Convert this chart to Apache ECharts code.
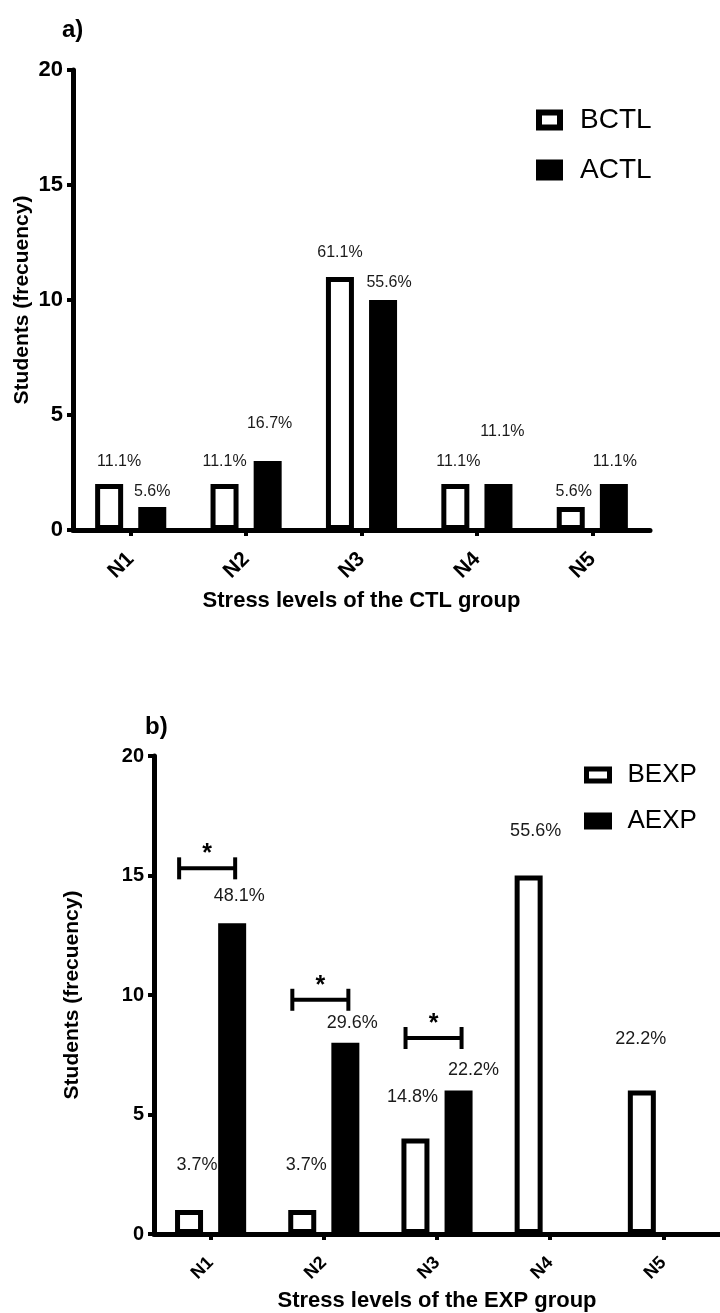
<!DOCTYPE html>
<html><head><meta charset="utf-8">
<script src="https://cdn.jsdelivr.net/npm/echarts@6/dist/echarts.min.js"></script>
<style>html,body{margin:0;padding:0;background:#fff}#c{width:720px;height:1313px}</style>
</head><body><div id="c"></div>
<script>
// ---- data ----
const levels = ['N1', 'N2', 'N3', 'N4', 'N5'];
const bctl = [2, 2, 11, 2, 1];
const actl = [1, 3, 10, 2, 2];
const bexp = [1, 1, 4, 15, 6];
const aexp = [13, 8, 6, 0, 0];
const sigCats = ['N1', 'N2', 'N3'];
const sigHeights = [15.3, 9.8, 8.2];
const yMin = 0, yMax = 20, yStep = 5;

// ---- label placement styles (pixels): [dx, lift of label centre above bar top] ----
const bctlLab = [[10, 22], [0, 22], [0, 24], [3, 22], [3, 15]];
const actlLab = [[0, 15], [2, 37], [6, 17], [4, 52], [1, 22]];
const bexpLab = [[8, 45], [4, 45], [-3, 41], [7, 44], [-1, 52]];
const aexpLab = [[7, 27], [7, 20], [15, 21], [0, 20], [0, 20]];

const FONT = "'Liberation Sans', Arial, sans-serif";
const sum = a => a.reduce((s, v) => s + v, 0);

function pctData(vals, labPos, fs) {
  const total = sum(vals);
  return vals.map((v, i) => ({
    value: v,
    itemStyle: v > 0 ? {} : { borderWidth: 0, opacity: 0 },
    label: {
      show: v > 0,
      offset: [labPos[i][0], -(labPos[i][1] - fs / 2)],
      formatter: () => (v / total * 100).toFixed(1) + '%'
    }
  }));
}

function xAxis(idx, name, fs, nameFs, nameGap, margin) {
  return {
    type: 'category', gridIndex: idx, data: levels,
    name: name, nameLocation: 'middle', nameGap: nameGap,
    nameTextStyle: { fontFamily: FONT, fontWeight: 'bold', fontSize: nameFs, color: '#000' },
    axisLine: { lineStyle: { color: '#000', width: 5 } },
    axisTick: { show: true, alignWithLabel: true, length: 6, lineStyle: { color: '#000', width: 4 } },
    axisLabel: { rotate: 45, margin: margin, fontFamily: FONT, fontWeight: 'bold', fontSize: fs, color: '#000' }
  };
}
function yAxis(idx, fs, nameFs, nameGap) {
  return {
    type: 'value', gridIndex: idx, min: yMin, max: yMax, interval: yStep,
    name: 'Students (frecuency)', nameLocation: 'middle', nameGap: nameGap, nameMoveOverlap: false,
    nameTextStyle: { fontFamily: FONT, fontWeight: 'bold', fontSize: nameFs, color: '#000' },
    axisLine: { show: true, lineStyle: { color: '#000', width: 5 } },
    axisTick: { show: true, length: 6, lineStyle: { color: '#000', width: 4 } },
    axisLabel: { margin: 10, fontFamily: FONT, fontWeight: 'bold', fontSize: fs, color: '#000' },
    splitLine: { show: false }
  };
}
function barSeries(name, idx, vals, labPos, white, fs) {
  return {
    name: name, type: 'bar', xAxisIndex: idx, yAxisIndex: idx,
    barWidth: 28, barGap: '54%',
    itemStyle: { color: white ? '#fff' : '#000', borderColor: '#000', borderWidth: 5 },
    label: { show: true, position: 'top', distance: 0, fontFamily: FONT, fontSize: fs, color: '#1a1a1a' },
    data: pctData(vals, labPos, fs)
  };
}

const chart = echarts.init(document.getElementById('c'), null, { renderer: 'canvas' });
chart.setOption({
  backgroundColor: '#fff',
  animation: false,
  graphic: [
    { type: 'text', left: 62, top: 18, style: { text: 'a)', font: 'bold 24px ' + FONT, fill: '#000' } },
    { type: 'text', left: 145, top: 715, style: { text: 'b)', font: 'bold 24px ' + FONT, fill: '#000' } }
  ],
  grid: [
    { left: 73, top: 70, width: 577, height: 460 },
    { left: 154, top: 756, width: 575, height: 481 }
  ],
  legend: [
    {
      data: ['BCTL', 'ACTL'], orient: 'vertical', left: 531, top: 101, icon: 'rect',
      itemWidth: 21, itemHeight: 15, itemGap: 22, selectedMode: false,
      itemStyle: { borderWidth: 6 },
      textStyle: { fontFamily: FONT, fontSize: 28, color: '#000', padding: [0, 0, 0, 15] }
    },
    {
      data: ['BEXP', 'AEXP'], orient: 'vertical', left: 579, top: 757, icon: 'rect',
      itemWidth: 23, itemHeight: 12, itemGap: 20, selectedMode: false,
      itemStyle: { borderWidth: 5 },
      textStyle: { fontFamily: FONT, fontSize: 26, color: '#000', padding: [0, 0, 0, 13] }
    }
  ],
  xAxis: [
    xAxis(0, 'Stress levels of the CTL group', 21, 22, 60, 26),
    xAxis(1, 'Stress levels of the EXP group', 18, 22, 56, 26)
  ],
  yAxis: [
    yAxis(0, 22, 21, 40),
    yAxis(1, 20, 21, 71)
  ],
  series: [
    barSeries('BCTL', 0, bctl, bctlLab, true, 16),
    barSeries('ACTL', 0, actl, actlLab, false, 16),
    barSeries('BEXP', 1, bexp, bexpLab, true, 18),
    barSeries('AEXP', 1, aexp, aexpLab, false, 18),
    {
      type: 'custom', xAxisIndex: 1, yAxisIndex: 1, silent: true, z: 5,
      data: sigCats.map((c, i) => [c, sigHeights[i]]),
      renderItem: function (params, api) {
        const p = api.coord([api.value(0), api.value(1)]);
        const band = api.size([1, 0])[0];
        const x1 = p[0] - band * 0.278, x2 = p[0] + band * 0.217, y = p[1];
        const ls = { stroke: '#000', lineWidth: 4 };
        return {
          type: 'group', children: [
            { type: 'line', shape: { x1: x1, y1: y, x2: x2, y2: y }, style: ls },
            { type: 'line', shape: { x1: x1, y1: y - 11, x2: x1, y2: y + 11 }, style: ls },
            { type: 'line', shape: { x1: x2, y1: y - 11, x2: x2, y2: y + 11 }, style: ls },
            { type: 'text', style: { text: '*', x: (x1 + x2) / 2, y: y - 14, align: 'center', verticalAlign: 'middle', font: 'bold 25px ' + FONT, fill: '#000' } }
          ]
        };
      }
    }
  ]
});
</script>
</body></html>
